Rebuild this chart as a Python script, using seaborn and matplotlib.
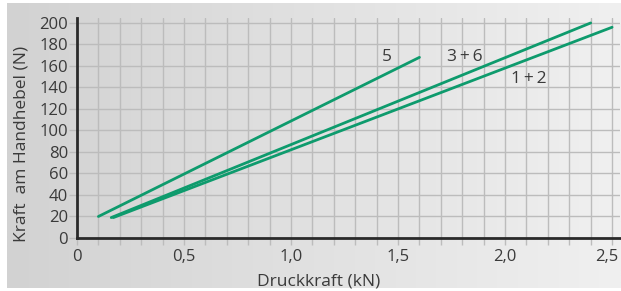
import numpy as np
import pandas as pd
import matplotlib
matplotlib.use("Agg")
import matplotlib.pyplot as plt
from matplotlib.colors import LinearSegmentedColormap
from matplotlib.ticker import MultipleLocator, FuncFormatter
import matplotlib.transforms as mtransforms
import seaborn as sns

# Data
series = ["5", "3+6", "1+2"]
x_5 = [0.10, 1.60]
y_5 = [20, 168]
x_36 = [0.16, 2.40]
y_36 = [19, 200]
x_12 = [0.17, 2.50]
y_12 = [19, 196]
label_text = {"5": "5", "3+6": "3\u2009+\u20096", "1+2": "1\u2009+\u20092"}
label_pos = {"5": (1.449, 168.5), "3+6": (1.813, 168.5), "1+2": (2.112, 148)}
xticks = [0, 0.5, 1.0, 1.5, 2.0, 2.5]
yticks = list(range(0, 201, 20))

df = pd.DataFrame({
    "x": x_5 + x_36 + x_12,
    "y": y_5 + y_36 + y_12,
    "s": ["5"] * 2 + ["3+6"] * 2 + ["1+2"] * 2,
})

sns.set_style("white")
plt.rcParams["font.family"] = ["Open Sans", "DejaVu Sans"]

W, H = 621, 291
fig = plt.figure(figsize=(W / 100, H / 100), dpi=100)
fig.patch.set_facecolor("white")

# gradient background panel
bg = fig.add_axes([7 / W, 3 / H, (W - 7) / W, (288 - 3) / H])
cmap = LinearSegmentedColormap.from_list("g", ["#d2d2d2", "#f0f0f0"])
bg.imshow(np.linspace(0, 1, 256)[None, :], aspect="auto", cmap=cmap, extent=[0, 1, 0, 1])
bg.set_axis_off()
bg.set_zorder(0)

ax = fig.add_axes([77 / W, (H - 238) / H, (620 - 77) / W, (238 - 18) / H])
ax.set_zorder(1)
ax.patch.set_alpha(0)

green = "#0e9b6d"
sns.lineplot(data=df, x="x", y="y", hue="s", palette=[green] * 3, ax=ax,
             legend=False, linewidth=2.0, estimator=None, sort=False)

ax.set_xlim(0, 2.537)
ax.set_ylim(0, 204.6)
ax.set_xticks(xticks)
ax.set_yticks(yticks)
ax.xaxis.set_minor_locator(MultipleLocator(0.1))
ax.xaxis.set_major_formatter(FuncFormatter(lambda v, p: ("0" if abs(v) < 1e-9 else f"{v:.1f}".replace(".", ","))))
gridc = "#bcbcbc"
ax.grid(True, which="both", axis="x", color=gridc, linewidth=1.0)
ax.grid(True, which="major", axis="y", color=gridc, linewidth=1.0)
ax.set_axisbelow(True)

for s in ["top", "right"]:
    ax.spines[s].set_visible(False)
for s in ["left", "bottom"]:
    ax.spines[s].set_color("#2a2a2a")
    ax.spines[s].set_linewidth(2.0)

txtc = "#3a3a3a"
ax.tick_params(axis="y", which="major", length=6, width=1.0, color=gridc,
               labelsize=12, labelcolor=txtc, pad=0.5, left=True)
ax.tick_params(axis="x", which="both", length=5, width=1.0, color=gridc,
               labelsize=12, labelcolor=txtc, pad=3, bottom=True)

# shift the last x tick label slightly left so it stays inside
for lbl in ax.get_xticklabels():
    if lbl.get_text() == "2,5":
        lbl.set_transform(lbl.get_transform() + mtransforms.ScaledTranslation(-5 / 100, 0, fig.dpi_scale_trans))

ax.set_xlabel("Druckkraft (kN)", fontsize=12.5, color=txtc)
ax.xaxis.set_label_coords((319 - 77) / 543, -43 / 220)
ax.xaxis.label.set_va("center")
ax.set_ylabel("Kraft  am Handhebel (N)", fontsize=12.5, color=txtc)
ax.yaxis.set_label_coords((22 - 77) / 543, (238 - 143.5) / 220)
ax.yaxis.label.set_va("center")

for name, (lx, ly) in label_pos.items():
    ax.text(lx, ly, label_text[name], fontsize=12.5, color=txtc, ha="center", va="center")

fig.savefig("out.png", dpi=100)
